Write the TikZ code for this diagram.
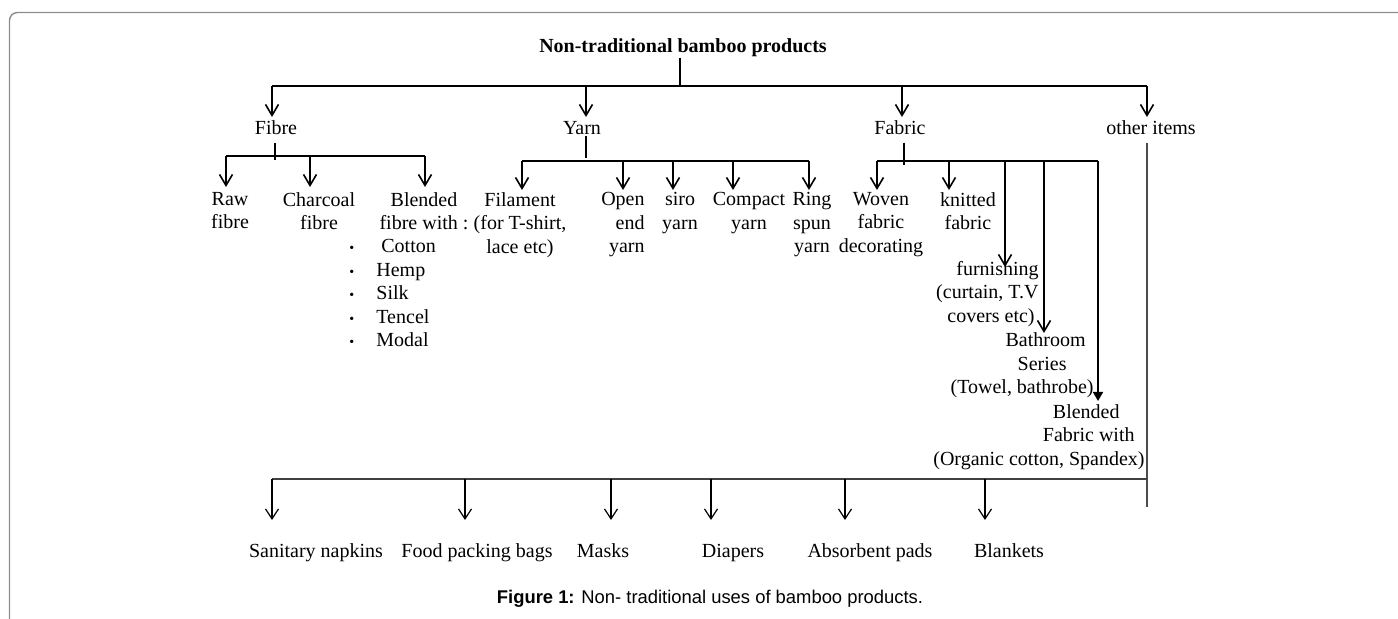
\documentclass[tikz,border=0pt]{standalone}
\usepackage{fontspec}
\setmainfont{Liberation Serif}
\newfontfamily\capfont{Liberation Sans}
\usetikzlibrary{arrows.meta}

\newcommand{\bul}{\makebox[13.5pt][l]{\fontsize{7}{7}\selectfont\textbullet}}

\begin{document}
\begin{tikzpicture}[x=0.5pt, y=-0.5pt,
  lbl/.style={inner sep=0pt, align=center, font=\fontsize{10}{11.75}\selectfont},
  arr/.style={-{Straight Barb[length=5.5pt,width=6.5pt]}, line width=0.8pt},
  thinarr/.style={-{Straight Barb[length=5pt,width=6.5pt]}, line width=0.6pt},
  bar/.style={line width=0.8pt},
  frame/.style={draw=black!45, line width=0.7pt, rounded corners=4pt}]
 \useasboundingbox (0,0) rectangle (1398,619);
 \draw[frame] (9.5,630) -- (9.5,12.5) -- (1410,12.5);

 % root
 \node[lbl, font=\bfseries\fontsize{10}{11.75}\selectfont, anchor=base] (root) at (683,53) {Non-traditional bamboo products};
 \coordinate (root foot) at (680,86);
 \coordinate (top L) at (272,86);
 \coordinate (top R) at (1147,86);
 \draw[bar] (root foot |- root.south) -- (root foot);
 \draw[bar] (top L) -- (top R);

 \foreach \n/\x/\xtext in {fibre/272/Fibre, yarn/586/Yarn, fabric/902/Fabric, other/1147/other items}
 {
   \coordinate (\n tip) at (\x,117);
   \draw[arr] (\n tip |- top L) -- (\n tip);
 }
 \node[lbl, anchor=base] (fibre) at (276,135) {Fibre};
 \node[lbl, anchor=base] (yarn) at (582,135) {Yarn};
 \node[lbl, anchor=base] (fabric) at (900,135) {Fabric};
 \node[lbl, anchor=base] (other) at (1151,135) {other items};

 % fibre
 \coordinate (fibre L) at (226,156);
 \coordinate (fibre R) at (425,156);
 \draw[bar] ([xshift=-0.5pt]fibre.south) ++(0,7) -- ++(0,17);
 \draw[bar] (fibre L) -- (fibre R);
 \foreach \n/\x in {raw/226, charcoal/310, blendf/425}
 {
   \coordinate (\n tip) at (\x,187);
   \draw[arr] (\n tip |- fibre L) -- (\n tip);
 }
 \node[lbl, anchor=north] (raw) at (230,192) {Raw\\fibre};
 \node[lbl, anchor=north] (charcoal) at (319,192) {Charcoal\\fibre};
 \node[lbl, anchor=north] (blendf) at (424,192) {Blended\\fibre with :};
 \node[lbl, anchor=north west, align=left] (blendlist) at (349,239)
   {\bul\ Cotton\\\bul Hemp\\\bul Silk\\\bul Tencel\\\bul Modal};

 % yarn
 \coordinate (yarn L) at (522,161);
 \coordinate (yarn R) at (809,161);
 \draw[bar] ([xshift=2pt]yarn.south) -- ++(0,22);
 \draw[bar] (yarn L) -- (yarn R);
 \foreach \n/\x in {filament/522, openend/623, siro/673, compact/733, ring/809}
 {
   \coordinate (\n tip) at (\x,190);
   \draw[arr] (\n tip |- yarn L) -- (\n tip);
 }
 \node[lbl, anchor=north] (filament) at (520,192) {Filament\\(for T-shirt,\\lace etc)};
 \node[lbl, anchor=north east, align=right] (openend) at (645,192) {Open\\end\\yarn};
 \node[lbl, anchor=north] (siro) at (680,192) {siro\\yarn};
 \node[lbl, anchor=north] (compact) at (749,192) {Compact\\yarn};
 \node[lbl, anchor=north] (ring) at (812,192) {Ring\\spun\\yarn};

 % fabric
 \coordinate (fabric L) at (877,161);
 \coordinate (fabric R) at (1098,161);
 \draw[bar] ([xshift=2pt]fabric.south) ++(0,7) -- ++(0,22);
 \draw[bar] (fabric L) -- (fabric R);
 \foreach \n/\x/\y in {woven/877/190, knitted/949/190, furnish/1005/267, bath/1044/333}
 {
   \coordinate (\n tip) at (\x,\y);
   \draw[arr] (\n tip |- fabric L) -- (\n tip);
 }
 \coordinate (blendfab tip) at (1098,401);
 \draw[bar, -{Triangle[length=4.5pt,width=5pt]}] (fabric R) -- (blendfab tip);
 \node[lbl, anchor=north] (woven) at (881,192) {Woven\\fabric\\decorating};
 \node[lbl, anchor=north] (knitted) at (968,192) {knitted\\fabric};
 \node[lbl, anchor=north east, align=right] (furnish) at (1039,261)
   {furnishing\\(curtain, T.V\\covers etc)\kern2pt};
 \node[lbl, anchor=north east, align=right] (bath) at (1094,332.5)
   {Bathroom\kern4pt\\Series\kern13.5pt\\(Towel, bathrobe)};
 \node[lbl, anchor=north east, align=right] (blendfab) at (1145,404)
   {Blended\kern12.5pt\\Fabric with\kern5pt\\(Organic cotton, Spandex)};

 % other items
 \coordinate (other foot) at (1147,507);
 \coordinate (bot L) at (272,479);
 \draw[line width=0.7pt, black!70] (other foot |- other.south) ++(0,7) -- (other foot);
 \draw[line width=0.8pt, black!75] (bot L) -- (bot L -| other foot);
 \foreach \n/\x in {napkins/272, bags/465, masks/611, diapers/711, pads/845, blankets/985}
 {
   \coordinate (\n tip) at (\x,520);
   \draw[thinarr] (\n tip |- bot L) -- (\n tip);
 }
 \foreach \n/\x/\xtext in {napkins/316/Sanitary napkins, bags/477/Food packing bags, masks/603/Masks,
   diapers/733/Diapers, pads/870/Absorbent pads, blankets/1009/Blankets}
   \node[lbl, anchor=base] (\n) at (\x,558) {\xtext};

 % caption
 \node[inner sep=0pt, anchor=base, font=\capfont\fontsize{9.2}{11}\selectfont] (fig) at (710,604)
   {\textbf{Figure 1:} Non- traditional uses of bamboo products.};
\end{tikzpicture}
\end{document}
